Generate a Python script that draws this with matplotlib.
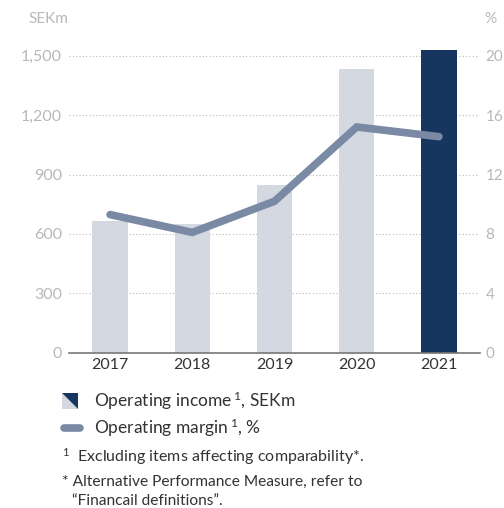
import matplotlib
matplotlib.use("Agg")
import matplotlib.pyplot as plt
from matplotlib.patches import Polygon
from matplotlib.lines import Line2D

years = ["2017", "2018", "2019", "2020", "2021"]
operating_income = [667, 650, 847, 1433, 1529]
operating_margin = [9.3, 8.1, 10.2, 15.2, 14.55]
left_ticks = [0, 300, 600, 900, 1200, 1500]
left_ticklabels = ["0", "300", "600", "900", "1,200", "1,500"]
right_ticks = [0, 4, 8, 12, 16, 20]

LIGHT = "#d3d8e1"
DARK = "#16365f"
LINE = "#7a8aa4"
GRAY = "#b8b8b8"
TXT = "#333333"

plt.rcParams['font.family'] = ['Lato', 'DejaVu Sans']
plt.rcParams['mathtext.fontset'] = 'custom'
plt.rcParams['mathtext.rm'] = 'Lato'
plt.rcParams['mathtext.it'] = 'Lato'
plt.rcParams['mathtext.bf'] = 'Lato'

fig = plt.figure(figsize=(5.04, 5.08), dpi=100)
W, H = 504, 508
ax_left, ax_right = 69, 480
base_y, top_y = 352.7, 50
ax = fig.add_axes([ax_left / W, (H - base_y) / H, (ax_right - ax_left) / W, (base_y - top_y) / H])
ax.set_ylim(0, 1500 * (base_y - top_y) / 297.0)
x = list(range(len(years)))
ax.set_xlim(-0.5, 4.5)
colors = [LIGHT] * 4 + [DARK]
ax.bar(x, operating_income, width=0.43, color=colors, zorder=2)
for s in ["top", "right", "left"]:
    ax.spines[s].set_visible(False)
ax.spines["bottom"].set_color("#777777")
ax.spines["bottom"].set_linewidth(1.2)
ax.set_yticks(left_ticks)
ax.set_yticklabels(left_ticklabels)
ax.tick_params(axis="y", length=0, pad=5, labelsize=11.5, labelcolor=GRAY)
ax.set_xticks(x)
ax.set_xticklabels(years)
ax.tick_params(axis="x", length=0, pad=4, labelsize=11.5, labelcolor=TXT)
for t in left_ticks[1:]:
    ax.axhline(t, xmax=0.995, color="#bbbbbb", lw=0.8, ls=(0, (1, 2)), zorder=1)

ax2 = ax.twinx()
ax2.set_ylim(0, 20 * (base_y - top_y) / 297.0)
ax2.plot(x, operating_margin, color=LINE, lw=5.5, solid_capstyle="round", solid_joinstyle="miter", zorder=3)
for s in ["top", "right", "left", "bottom"]:
    ax2.spines[s].set_visible(False)
ax2.set_yticks(right_ticks)
ax2.tick_params(axis="y", length=0, pad=4, labelsize=11, labelcolor=GRAY)

fig.text(28 / W, 1 - 19 / H, "SEKm", fontsize=11, color=GRAY, va="center", ha="left")
fig.text(484 / W, 1 - 19 / H, "%", fontsize=11, color=GRAY, va="center", ha="left")

def fx(px):
    return px / W
def fy(py):
    return 1 - py / H

x0, x1, y0, y1 = 62, 78, 393, 409
fig.patches.append(Polygon([(fx(x0), fy(y1)), (fx(x1), fy(y1)), (fx(x0), fy(y0))], closed=True,
                           facecolor=LIGHT, edgecolor="none", transform=fig.transFigure, figure=fig))
fig.patches.append(Polygon([(fx(x0), fy(y0)), (fx(x1), fy(y0)), (fx(x1), fy(y1))], closed=True,
                           facecolor=DARK, edgecolor="none", transform=fig.transFigure, figure=fig))
fig.lines.append(Line2D([fx(64), fx(80)], [fy(427.5), fy(427.5)], color=LINE, lw=5.5,
                        solid_capstyle="round", transform=fig.transFigure, figure=fig))
fig.text(fx(94), fy(401), r"Operating income$\,^{1}$, SEKm", fontsize=12.5, color=TXT, va="center", ha="left")
fig.text(fx(94), fy(428), r"Operating margin$\,^{1}$, %", fontsize=12.5, color=TXT, va="center", ha="left")
fig.text(fx(62), fy(457), r"$^{1}$  Excluding items affecting comparability*.", fontsize=11.5, color=TXT, va="center", ha="left")
fig.text(fx(62), fy(482), "* Alternative Performance Measure, refer to", fontsize=11.2, color=TXT, va="center", ha="left")
fig.text(fx(72), fy(501), "“Financail definitions”.", fontsize=11.2, color=TXT, va="center", ha="left")

fig.savefig("out.png", dpi=100)
